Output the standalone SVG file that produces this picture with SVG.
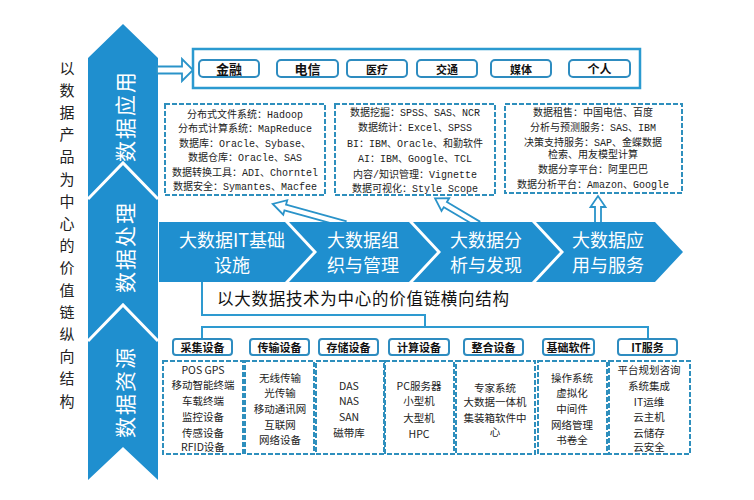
<svg xmlns="http://www.w3.org/2000/svg" width="754" height="500" viewBox="0 0 754 500">
<style>
.blue{fill:#1f8fcf}
.sep{fill:none;stroke:#fff;stroke-width:3}
.col{font-family:"Noto Sans CJK SC",sans-serif;font-size:21px;fill:#fff;text-anchor:middle;dominant-baseline:central}
.chev{font-family:"Noto Sans CJK SC",sans-serif;font-size:18px;fill:#fff;text-anchor:middle;dominant-baseline:central}
.vert{font-family:"Noto Sans CJK SC",serif;font-size:15px;fill:#222;text-anchor:middle;dominant-baseline:central}
.app{fill:#fff;stroke:#2e8cc0;stroke-width:2}
.appt{font-family:"Noto Sans CJK SC",sans-serif;font-weight:bold;fill:#111;text-anchor:middle;dominant-baseline:central}
.dash{fill:#fff;stroke:#2e8fbd;stroke-width:2;stroke-dasharray:5 2}
.mt{font-family:"Liberation Mono","Noto Sans CJK SC",monospace;font-size:10px;fill:#222;text-anchor:middle;dominant-baseline:central}
.bt{font-family:"Noto Sans CJK SC",sans-serif;font-size:10.5px;fill:#222;text-anchor:middle;dominant-baseline:central}
.cat{fill:#fff;stroke:#2e8cc0;stroke-width:2}
.catt{font-family:"Noto Sans CJK SC",sans-serif;font-size:11px;font-weight:bold;fill:#111;text-anchor:middle;dominant-baseline:central}
.ln{fill:none;stroke:#2e9ad0;stroke-width:2}
.harrow{fill:#fff;stroke:#2a93c9;stroke-width:1.8;stroke-linejoin:miter}
</style>

<!-- left vertical title -->
<g id="vertical-title">
<text class="vert" x="67" y="67">以</text>
<text class="vert" x="67" y="89.2">数</text>
<text class="vert" x="67" y="111.4">据</text>
<text class="vert" x="67" y="133.6">产</text>
<text class="vert" x="67" y="155.8">品</text>
<text class="vert" x="67" y="178">为</text>
<text class="vert" x="67" y="200.2">中</text>
<text class="vert" x="67" y="222.4">心</text>
<text class="vert" x="67" y="244.6">的</text>
<text class="vert" x="67" y="266.8">价</text>
<text class="vert" x="67" y="289">值</text>
<text class="vert" x="67" y="311.2">链</text>
<text class="vert" x="67" y="333.4">纵</text>
<text class="vert" x="67" y="355.6">向</text>
<text class="vert" x="67" y="377.8">结</text>
<text class="vert" x="67" y="400">构</text>
</g>

<!-- left column -->
<g id="column">
<polygon class="blue" points="88,58 123,24 158,58 158,480 123,447 88,480"/>
<polyline class="sep" points="88,199 123,163 158,199"/>
<polyline class="sep" points="88,341 123,305 158,341"/>
<text class="col" transform="translate(124,116) rotate(-90)" letter-spacing="2">数据应用</text>
<text class="col" transform="translate(124,247) rotate(-90)" letter-spacing="2">数据处理</text>
<text class="col" transform="translate(124,392) rotate(-90)" letter-spacing="2">数据资源</text>
</g>

<!-- connectors -->
<g id="connectors">
<polygon class="harrow" points="157,66.5 182,66.5 182,59 193,70 182,81 182,73.5 157,73.5"/>
<polygon class="harrow" transform="translate(345,224) rotate(195.5)" points="0,-3 62,-3 62,-7.5 75,0 62,7.5 62,3 0,3"/>
<polygon class="harrow" transform="translate(478,224) rotate(210.8)" points="0,-3 38,-3 38,-7.5 50,0 38,7.5 38,3 0,3"/>
<polygon class="harrow" transform="translate(598,224) rotate(-90)" points="0,-3 17,-3 17,-7.5 28,0 17,7.5 17,3 0,3"/>
<polyline class="ln" points="202,282 202,315 425,315 425,327"/>
<polyline class="ln" points="202,338 202,327 648,327 648,338"/>
</g>

<!-- application box -->
<g id="apps">
<rect x="193" y="49" width="447" height="39" fill="#fff" stroke="#2b9ad0" stroke-width="2.5"/>
<rect class="app" x="199" y="60" width="60" height="17" rx="4"/>
<text class="appt" x="229" y="68.5" font-size="13">金融</text>
<rect class="app" x="277" y="60" width="61" height="17" rx="4"/>
<text class="appt" x="307.5" y="68.5" font-size="13">电信</text>
<rect class="app" x="347" y="60" width="60" height="17" rx="4"/>
<text class="appt" x="377" y="68.5" font-size="11">医疗</text>
<rect class="app" x="417" y="60" width="60" height="17" rx="4"/>
<text class="appt" x="447" y="68.5" font-size="11">交通</text>
<rect class="app" x="491" y="60" width="60" height="17" rx="4"/>
<text class="appt" x="521" y="68.5" font-size="11">媒体</text>
<rect class="app" x="569" y="60" width="61" height="17" rx="4"/>
<text class="appt" x="599.5" y="68.5" font-size="12">个人</text>
</g>

<!-- middle dashed boxes -->
<g id="box-infra">
<rect class="dash" x="165" y="104" width="160" height="91"/>
<text class="mt" x="245" y="115">分布式文件系统：Hadoop</text>
<text class="mt" x="245" y="129.5">分布式计算系统：MapReduce</text>
<text class="mt" x="245" y="144">数据库：Oracle、Sybase、</text>
<text class="mt" x="245" y="158.5">数据仓库：Oracle、SAS</text>
<text class="mt" x="245" y="173">数据转换工具：ADI、Chorntel</text>
<text class="mt" x="245" y="187.5">数据安全：Symantes、Macfee</text>
</g>
<g id="box-analysis">
<rect class="dash" x="335" y="104" width="160" height="91"/>
<text class="mt" x="415" y="113.5">数据挖掘：SPSS、SAS、NCR</text>
<text class="mt" x="415" y="128.5">数据统计：Excel、SPSS</text>
<text class="mt" x="415" y="144">BI：IBM、Oracle、和勤软件</text>
<text class="mt" x="415" y="159.5">AI：IBM、Google、TCL</text>
<text class="mt" x="415" y="175">内容/知识管理：Vignette</text>
<text class="mt" x="415" y="189.5">数据可视化：Style Scope</text>
</g>
<g id="box-service">
<rect class="dash" x="505" y="104" width="177" height="89"/>
<text class="mt" x="593" y="113.5">数据租售：中国电信、百度</text>
<text class="mt" x="593" y="128.5">分析与预测服务：SAS、IBM</text>
<text class="mt" x="593" y="143.5">决策支持服务：SAP、金蝶数据</text>
<text class="mt" x="593" y="155.5">检索、用友模型计算</text>
<text class="mt" x="593" y="170.5">数据分享平台：阿里巴巴</text>
<text class="mt" x="593" y="185.5">数据分析平台：Amazon、Google</text>
</g>

<!-- chevrons -->
<g id="chev-1">
<polygon class="blue" points="159,222 285,222 313,252 285,282 159,282"/>
<text class="chev" x="232" y="238.5">大数据IT基础</text>
<text class="chev" x="232" y="264">设施</text>
</g>
<g id="chev-2">
<polygon class="blue" points="289,222 409,222 437,252 409,282 289,282 317,252"/>
<text class="chev" x="363" y="238.5">大数据组</text>
<text class="chev" x="363" y="264">织与管理</text>
</g>
<g id="chev-3">
<polygon class="blue" points="413,222 532,222 560,252 532,282 413,282 441,252"/>
<text class="chev" x="486" y="238.5">大数据分</text>
<text class="chev" x="486" y="264">析与发现</text>
</g>
<g id="chev-4">
<polygon class="blue" points="536,222 655,222 683,252 655,282 536,282 564,252"/>
<text class="chev" x="608" y="238.5">大数据应</text>
<text class="chev" x="608" y="264">用与服务</text>
</g>

<g id="h-title">
<text x="217" y="298" font-family="Noto Sans CJK SC,serif" font-size="16.5" fill="#111" dominant-baseline="central" textLength="292">以大数据技术为中心的价值链横向结构</text>
</g>

<!-- bottom categories -->
<g id="cat-collect">
<rect class="cat" x="173" y="339" width="59" height="16" rx="3"/>
<text class="catt" x="202.5" y="347">采集设备</text>
<rect class="dash" x="163" y="361" width="80" height="93"/>
<text class="bt" x="203" y="369">POS GPS</text>
<text class="bt" x="203" y="384.5">移动智能终端</text>
<text class="bt" x="203" y="400">车载终端</text>
<text class="bt" x="203" y="416">监控设备</text>
<text class="bt" x="203" y="432">传感设备</text>
<text class="bt" x="203" y="446.5">RFID设备</text>
</g>
<g id="cat-transfer">
<rect class="cat" x="250" y="339" width="59" height="16" rx="3"/>
<text class="catt" x="279.5" y="347">传输设备</text>
<rect class="dash" x="245" y="361" width="69" height="93"/>
<text class="bt" x="280" y="377">无线传输</text>
<text class="bt" x="280" y="392.5">光传输</text>
<text class="bt" x="280" y="408">移动通讯网</text>
<text class="bt" x="280" y="424">互联网</text>
<text class="bt" x="280" y="439.5">网络设备</text>
</g>
<g id="cat-storage">
<rect class="cat" x="319" y="339" width="59" height="16" rx="3"/>
<text class="catt" x="348.5" y="347">存储设备</text>
<rect class="dash" x="316" y="361" width="68" height="93"/>
<text class="bt" x="349" y="385">DAS</text>
<text class="bt" x="349" y="400.5">NAS</text>
<text class="bt" x="349" y="416">SAN</text>
<text class="bt" x="349" y="432">磁带库</text>
</g>
<g id="cat-compute">
<rect class="cat" x="389" y="339" width="60" height="16" rx="3"/>
<text class="catt" x="419" y="347">计算设备</text>
<rect class="dash" x="385" y="361" width="69" height="93"/>
<text class="bt" x="419" y="385">PC服务器</text>
<text class="bt" x="419" y="400.5">小型机</text>
<text class="bt" x="419" y="417">大型机</text>
<text class="bt" x="419" y="433">HPC</text>
</g>
<g id="cat-integrate">
<rect class="cat" x="464" y="339" width="59" height="16" rx="3"/>
<text class="catt" x="493.5" y="347">整合设备</text>
<rect class="dash" x="456" y="361" width="79" height="93"/>
<text class="bt" x="495" y="387">专家系统</text>
<text class="bt" x="495" y="401.5">大数据一体机</text>
<text class="bt" x="495" y="417">集装箱软件中</text>
<text class="bt" x="495" y="431">心</text>
</g>
<g id="cat-software">
<rect class="cat" x="543" y="339" width="51" height="16" rx="3"/>
<text class="catt" x="568.5" y="347">基础软件</text>
<rect class="dash" x="538" y="361" width="69" height="93"/>
<text class="bt" x="572" y="377">操作系统</text>
<text class="bt" x="572" y="392.5">虚拟化</text>
<text class="bt" x="572" y="408">中间件</text>
<text class="bt" x="572" y="424">网络管理</text>
<text class="bt" x="572" y="439.5">书卷全</text>
</g>
<g id="cat-itservice">
<rect class="cat" x="618" y="339" width="59" height="16" rx="3"/>
<text class="catt" x="647.5" y="347">IT服务</text>
<rect class="dash" x="609" y="361" width="81" height="93"/>
<text class="bt" x="649" y="369">平台规划咨询</text>
<text class="bt" x="649" y="385">系统集成</text>
<text class="bt" x="649" y="401">IT运维</text>
<text class="bt" x="649" y="416.5">云主机</text>
<text class="bt" x="649" y="432">云储存</text>
<text class="bt" x="649" y="446.5">云安全</text>
</g>
</svg>
